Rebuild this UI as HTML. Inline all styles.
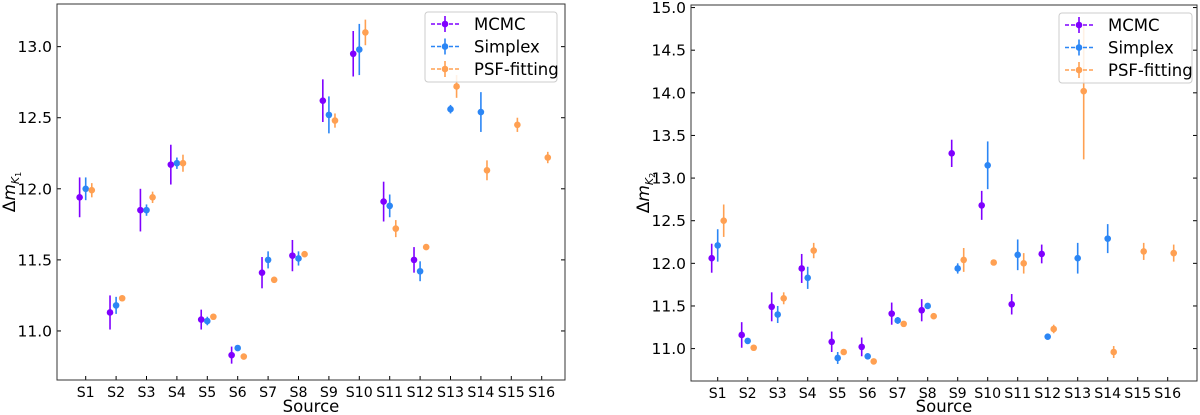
<!DOCTYPE html>
<html><head><meta charset="utf-8"><style>
body{margin:0;background:#fff;}
svg{display:block;font-family:"DejaVu Sans","Liberation Sans",sans-serif;}
</style></head><body>
<svg id="c" width="1200" height="415"></svg>
<script>
const sources=["S1","S2","S3","S4","S5","S6","S7","S8","S9","S10","S11","S12","S13","S14","S15","S16"];
// Left panel (K1)
const k1Mcmc=[11.94,11.13,11.85,12.17,11.08,10.83,11.41,11.53,12.62,12.95,11.91,11.50,null,null,null,null];
const k1McmcErr=[0.14,0.12,0.15,0.14,0.07,0.06,0.11,0.11,0.15,0.16,0.14,0.09,0,0,0,0];
const k1Simp=[12.00,11.18,11.85,12.18,11.07,10.88,11.50,11.51,12.52,12.98,11.88,11.42,12.56,12.54,null,null];
const k1SimpErr=[0.08,0.06,0.04,0.04,0.03,0.02,0.06,0.05,0.13,0.18,0.08,0.07,0.03,0.14,0,0];
const k1Psf=[11.99,11.23,11.94,12.18,11.10,10.82,11.36,11.54,12.48,13.10,11.72,11.59,12.72,12.13,12.45,12.22];
const k1PsfErr=[0.05,0.02,0.04,0.06,0.02,0.02,0.02,0.02,0.05,0.09,0.06,0.02,0.08,0.07,0.05,0.04];
const k1Ticks=[11.0,11.5,12.0,12.5,13.0];
// Right panel (K2)
const k2Mcmc=[12.06,11.16,11.49,11.94,11.08,11.02,11.41,11.45,13.29,12.68,11.52,12.11,null,null,null,null];
const k2McmcErr=[0.17,0.15,0.17,0.17,0.12,0.11,0.13,0.13,0.16,0.17,0.12,0.11,0,0,0,0];
const k2Simp=[12.21,11.09,11.40,11.83,10.89,10.91,11.33,11.50,11.94,13.15,12.10,11.14,12.06,12.29,null,null];
const k2SimpErr=[0.19,0.02,0.10,0.13,0.07,0.03,0.04,0.02,0.06,0.28,0.18,0.02,0.18,0.17,0,0];
const k2Psf=[12.50,11.01,11.59,12.15,10.96,10.85,11.29,11.38,12.04,12.01,12.00,11.23,14.02,10.96,12.14,12.12];
const k2PsfErr=[0.19,0.02,0.07,0.09,0.03,0.02,0.03,0.03,0.14,0.02,0.12,0.05,0.80,0.07,0.10,0.10];
const k2Ticks=[11.0,11.5,12.0,12.5,13.0,13.5,14.0,14.5,15.0];

const NS="http://www.w3.org/2000/svg";
const svg=document.getElementById('c');
function mk(tag,attrs,parent){const e=document.createElementNS(NS,tag);for(const k in attrs)e.setAttribute(k,attrs[k]);(parent||svg).appendChild(e);return e;}
const colM="#7f00ff",colS="#2b86f5",colP="#ffa052";

function panel(cfg){
  const g=mk('g',{});
  
  
  const x=i=>cfg.x0+i*cfg.dx;
  const y=v=>cfg.yb-(v-cfg.ymin)/(cfg.ymax-cfg.ymin)*(cfg.yb-cfg.yt);
  cfg.ticks.forEach(t=>{
    const yy=y(t);
    const l=mk('line',{x1:cfg.l,x2:cfg.l+4,y1:yy,y2:yy,stroke:'#000','stroke-width':1},g);
    
    mk('line',{x1:cfg.r,x2:cfg.r-4,y1:yy,y2:yy,stroke:'#000','stroke-width':1},g);
    const tx=mk('text',{x:cfg.l-5,y:yy+5.5,'text-anchor':'end','font-size':15.5},g);
    tx.textContent=t.toFixed(1);
    
  });
  sources.forEach((s,i)=>{
    mk('line',{x1:x(i),x2:x(i),y1:cfg.yb,y2:cfg.yb-4,stroke:'#000','stroke-width':1},g);
    const tx=mk('text',{x:x(i),y:cfg.yb+17,'text-anchor':'middle','font-size':14.5,'textLength':s.length>2?27:18,'lengthAdjust':'spacingAndGlyphs'},g);
    tx.textContent=s;
    
  });
  const series=[[cfg.m,cfg.me,colM,-0.2,'mcmc'],[cfg.s,cfg.se,colS,0,'simplex'],[cfg.p,cfg.pe,colP,0.2,'psf']];
  series.forEach(([vals,errs,col,off,nm])=>{
    vals.forEach((v,i)=>{
      if(v===null)return;
      const xx=x(i+off);
      const el=mk('line',{x1:xx,x2:xx,y1:y(v-errs[i]),y2:y(v+errs[i]),stroke:col,'stroke-width':1.6},g);
      
      const c=mk('circle',{cx:xx,cy:y(v),r:3.3,fill:col},g);
      
    });
  });
  mk('rect',{x:cfg.l,y:cfg.yt,width:cfg.r-cfg.l,height:cfg.yb-cfg.yt,fill:'none',stroke:'#333','stroke-width':1},g);
  const xl=mk('text',{x:(cfg.l+cfg.r)/2,y:412,'text-anchor':'middle','font-size':16.5},g);
  xl.textContent='Source';
  
  const cy=(cfg.yt+cfg.yb)/2;
  const yl=mk('text',{x:0,y:0,'font-size':17,transform:`translate(${cfg.l-42},${cy}) rotate(-90)`,'text-anchor':'middle'},g);
  yl.innerHTML='Δ<tspan font-style="italic">m</tspan><tspan font-size="11" font-style="italic" dy="4">K</tspan><tspan font-size="8" dy="2">'+cfg.sub+'</tspan>';
  
  const lg=mk('g',{},g);
  
  mk('rect',{x:cfg.lx,y:cfg.ly,width:cfg.lw,height:70,rx:3,fill:'#fff',stroke:'#ccc','stroke-width':1,'fill-opacity':0.85},lg);
  [['MCMC',colM],['Simplex',colS],['PSF-fitting',colP]].forEach(([t,c],k)=>{
    const yy=cfg.ly+12+k*22.5;
    const ent=mk('g',{},lg);
    
    mk('line',{x1:cfg.lx+6,x2:cfg.lx+34,y1:yy,y2:yy,stroke:c,'stroke-width':1.6,'stroke-dasharray':'4,2'},ent);
    mk('line',{x1:cfg.lx+20,x2:cfg.lx+20,y1:yy-8,y2:yy+8,stroke:c,'stroke-width':1.6},ent);
    mk('circle',{cx:cfg.lx+20,cy:yy,r:3.3,fill:c},ent);
    const tx=mk('text',{x:cfg.lx+49,y:yy+6,'font-size':16.5},ent);tx.textContent=t;
  });
}
panel({name:'left-chart',l:57,r:565,yt:4,yb:380,x0:85.7,dx:30.4,ymin:10.655,ymax:13.30,ticks:k1Ticks,
  m:k1Mcmc,me:k1McmcErr,s:k1Simp,se:k1SimpErr,p:k1Psf,pe:k1PsfErr,sub:'1',lx:425,ly:12,lw:132});
panel({name:'right-chart',l:691,r:1197,yt:5,yb:381,x0:717.7,dx:30,ymin:10.62,ymax:15.03,ticks:k2Ticks,
  m:k2Mcmc,me:k2McmcErr,s:k2Simp,se:k2SimpErr,p:k2Psf,pe:k2PsfErr,sub:'2',lx:1059,ly:13,lw:133});
</script>
</body></html>
